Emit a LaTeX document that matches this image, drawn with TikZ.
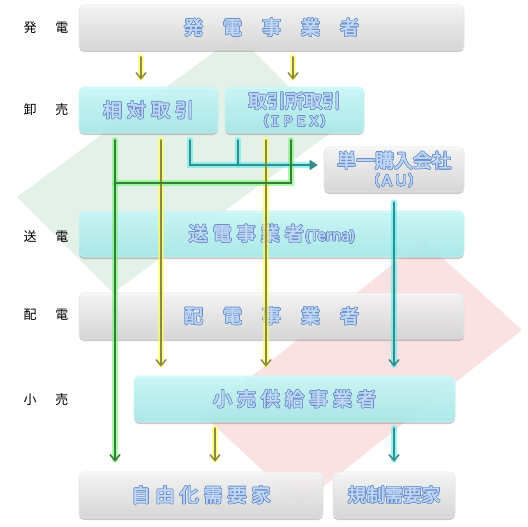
\documentclass[tikz,border=0pt]{standalone}
\usepackage{fontspec}
\usepackage{contour}
\usetikzlibrary{shadows,arrows.meta}
\newfontfamily\jp{Noto Sans CJK JP}
\newfontfamily\jpb[FakeBold=2.2]{Noto Sans CJK JP}
\newfontfamily\lat[FakeBold=1.5]{Noto Sans}
\definecolor{gtop}{HTML}{FAFAFA}
\definecolor{gbot}{HTML}{D8D8D8}
\definecolor{gline}{HTML}{E6E6E6}
\definecolor{ctop}{HTML}{CCFCFC}
\definecolor{cbot}{HTML}{A8ECEC}
\definecolor{cline}{HTML}{C8F2F2}
\definecolor{tfill}{HTML}{C2D8F6}
\definecolor{tline}{HTML}{6890CC}
\definecolor{dgreen}{HTML}{E3F1E9}
\definecolor{dred}{HTML}{FBE2E2}
\definecolor{greenglow}{HTML}{70F870}
\definecolor{greencore}{HTML}{3A7A3A}
\definecolor{yelglow}{HTML}{FFFF55}
\definecolor{yelcore}{HTML}{8A8A46}
\definecolor{cyaglow}{HTML}{55F0F0}
\definecolor{cyacore}{HTML}{3A8A8A}
\contourlength{0.6pt}
\contournumber{20}
\newcommand\bl[1]{\contour{tline}{\textcolor{tfill}{#1}}}
\tikzset{
  box/.style={rectangle, rounded corners=5pt, inner sep=0pt, line width=0.6pt,
    fill opacity=0.88, text opacity=1,
    drop shadow={shadow xshift=0pt, shadow yshift=-2pt, opacity=0.35, fill=black!60},
    font=\jpb\fontsize{19}{22}\selectfont, align=center},
  graybox/.style={box, top color=gtop, bottom color=gbot, draw=gline},
  cyanbox/.style={box, top color=ctop, bottom color=cbot, draw=cline},
  side/.style={font=\jp\fontsize{13}{15}\selectfont, text=black},
  gglow/.style={draw=greenglow, line width=6pt, opacity=0.6, line cap=round},
  gln/.style={draw=greencore, line width=1.5pt, line cap=round},
  yglow/.style={draw=yelglow, line width=6pt, opacity=0.65, line cap=round},
  yln/.style={draw=yelcore, line width=1.5pt, line cap=round},
  cglow/.style={draw=cyaglow, line width=6pt, opacity=0.6, line cap=round},
  cln/.style={draw=cyacore, line width=1.5pt, line cap=round},
  barb/.style={-{Straight Barb[length=6pt,width=10pt,line width=1.5pt]}},
  tri/.style={-{Triangle[length=8pt,width=10pt]}}
}
\begin{document}
\begin{tikzpicture}[x=1pt,y=-1pt]
\useasboundingbox (0,0) rectangle (528,527);
% background diamonds
\fill[dgreen] (237,35) -- (17,197) -- (113,293) -- (333,131) -- cycle;
\fill[dred] (423,240) -- (522,330) -- (300,505) -- (203,415) -- cycle;

% side labels
\node[side] (l1) at (46,28) {発\hspace{19pt}電};
\node[side] (l2) at (46,110) {卸\hspace{19pt}売};
\node[side] (l3) at (46,237) {送\hspace{19pt}電};
\node[side] (l4) at (46,315) {配\hspace{19pt}電};
\node[side] (l5) at (46,400) {小\hspace{19pt}売};

% boxes
\node[graybox, minimum width=385pt, minimum height=45pt] (gen) at (271.5,27.5)
  {\bl{発\hspace{20pt}電\hspace{20pt}事\hspace{20pt}業\hspace{20pt}者}};
\node[cyanbox, minimum width=139pt, minimum height=46pt] (sotai) at (148.5,110)
  {\bl{相\hspace{5pt}対\hspace{5pt}取\hspace{5pt}引}};
\node[cyanbox, minimum width=139pt, minimum height=46pt] (ipex) at (294.5,110)
  {\bl{\fontsize{18.5}{18}\selectfont 取引所取引}\\[-4pt]\bl{\fontsize{13}{13}\selectfont （ＩＰＥＸ）}};
\node[graybox, minimum width=140pt, minimum height=45pt] (au) at (394,169.5)
  {\bl{\fontsize{19}{18}\selectfont 単一購入会社}\\[-4pt]\bl{\fontsize{14}{14}\selectfont （ＡＵ）}};
\node[cyanbox, minimum width=385pt, minimum height=46pt] (terna) at (271.5,234)
  {\bl{送\hspace{5pt}電\hspace{5pt}事\hspace{5pt}業\hspace{5pt}者\hspace{2pt}{\lat\fontsize{15}{15}\selectfont(Terna)}}};
\node[graybox, minimum width=385pt, minimum height=46pt] (haiden) at (271.5,316)
  {\bl{配\hspace{20pt}電\hspace{20pt}事\hspace{20pt}業\hspace{20pt}者}};
\node[cyanbox, minimum width=321pt, minimum height=46pt] (kouri) at (294.5,399)
  {\bl{小\hspace{5pt}売\hspace{5pt}供\hspace{5pt}給\hspace{5pt}事\hspace{5pt}業\hspace{5pt}者}};
\node[graybox, minimum width=244pt, minimum height=46pt] (jiyu) at (201,495)
  {\bl{自\hspace{5pt}由\hspace{5pt}化\hspace{5pt}需\hspace{5pt}要\hspace{5pt}家}};
\node[graybox, minimum width=122pt, minimum height=46pt] (kisei) at (394,495)
  {\bl{\fontsize{18.5}{18}\selectfont 規制需要家}};

% connector start points
\coordinate (ya) at (141,57);
\coordinate (yb) at (293,57);
\coordinate (g1) at (115,140);
\coordinate (g2) at (291,140);
\coordinate (gh) at (115,183);
\coordinate (y1) at (161,140);
\coordinate (y2) at (266,140);
\coordinate (c1) at (190,140);
\coordinate (c2) at (238,140);
\coordinate (ch) at (190,165);
\coordinate (yc) at (215,428);
\coordinate (cc) at (394,428);

% glows
\draw[yglow, barb, shorten >=7pt] (ya) -- (ya |- sotai.north);
\draw[yglow, barb, shorten >=7pt] (yb) -- (yb |- ipex.north);
\draw[yglow, barb, shorten >=9pt] (y1) -- (y1 |- kouri.north);
\draw[yglow, barb, shorten >=9pt] (y2) -- (y2 |- kouri.north);
\draw[cglow] (c2) -- (c2 |- ch);
\draw[cglow, tri, shorten >=6pt] (c1) -- (ch) -- (ch -| au.west);
\draw[cglow, barb, shorten >=9pt] ([yshift=-10pt]au.south) -- (au.south |- kouri.north);
\draw[gglow] (g2) -- (g2 |- gh) -- (gh);
\draw[gglow, barb, shorten >=10pt] (g1) -- (g1 |- jiyu.north);
\draw[yglow, barb, shorten >=10pt] (yc) -- (yc |- jiyu.north);
\draw[cglow, barb, shorten >=10pt] (cc) -- (cc |- kisei.north);

% cores
\draw[yln, barb, shorten >=7pt] (ya) -- (ya |- sotai.north);
\draw[yln, barb, shorten >=7pt] (yb) -- (yb |- ipex.north);
\draw[yln, barb, shorten >=9pt] (y1) -- (y1 |- kouri.north);
\draw[yln, barb, shorten >=9pt] (y2) -- (y2 |- kouri.north);
\draw[cln] (c2) -- (c2 |- ch);
\draw[cln, tri, shorten >=6pt] (c1) -- (ch) -- (ch -| au.west);
\draw[cln, barb, shorten >=9pt] ([yshift=-10pt]au.south) -- (au.south |- kouri.north);
\draw[gln] (g2) -- (g2 |- gh) -- (gh);
\draw[gln, barb, shorten >=10pt] (g1) -- (g1 |- jiyu.north);
\draw[yln, barb, shorten >=10pt] (yc) -- (yc |- jiyu.north);
\draw[cln, barb, shorten >=10pt] (cc) -- (cc |- kisei.north);
\end{tikzpicture}
\end{document}
